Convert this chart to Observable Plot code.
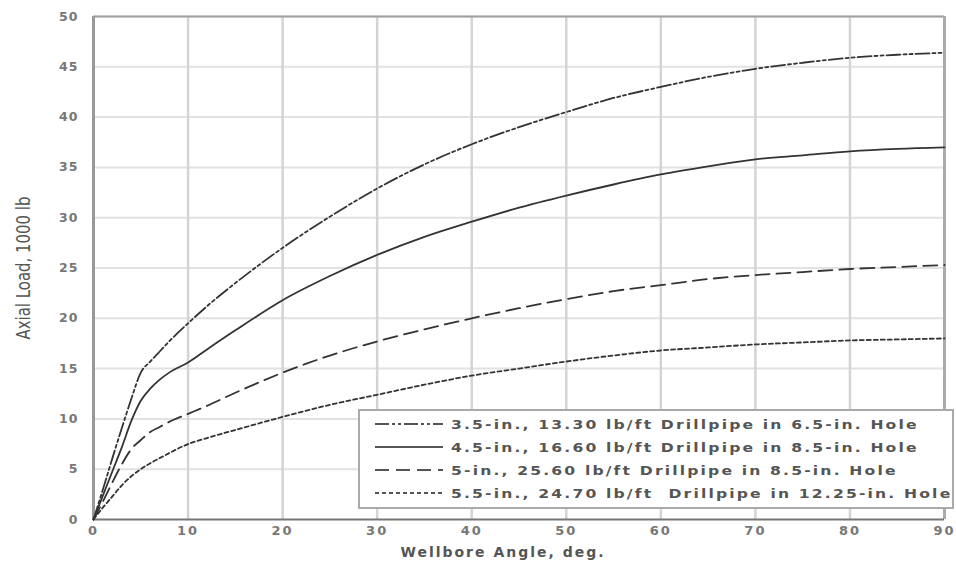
<!DOCTYPE html>
<html>
<head>
<meta charset="utf-8">
<script src="https://cdn.jsdelivr.net/npm/d3@7"></script>
<script src="https://cdn.jsdelivr.net/npm/@observablehq/plot@0.6"></script>
<style>
  body { margin: 0; background: #fff; }
  #wrap { position: relative; width: 956px; height: 569px; font-family: "DejaVu Sans", sans-serif; }
  #legend { position: absolute; left: 358px; top: 409px; width: 592px; height: 96px; border: 2px solid #aaa; background: #fff; box-sizing: content-box; }
  .row { position: absolute; left: 0; height: 20px; display: flex; align-items: center; }
  .row svg { margin-left: 15px; margin-right: 8px; flex: none; }
  .row span { display: inline-block; font-size: 13px; font-weight: bold; color: #555; letter-spacing: 1.8px; white-space: pre; transform: scaleX(1.2); transform-origin: left center; }
</style>
</head>
<body>
<div id="wrap"></div>
<script>
const seriesNames = [
  "3.5-in., 13.30 lb/ft Drillpipe in 6.5-in. Hole",
  "4.5-in., 16.60 lb/ft Drillpipe in 8.5-in. Hole",
  "5-in., 25.60 lb/ft Drillpipe in 8.5-in. Hole",
  "5.5-in., 24.70 lb/ft  Drillpipe in 12.25-in. Hole"
];
const angles = [0, 1, 2, 3, 4, 5, 6, 7, 8, 10, 12, 15, 20, 25, 30, 35, 40, 45, 50, 55, 60, 65, 70, 75, 80, 85, 90];
const load35 = [0, 3, 6.1, 9.1, 12, 14.6, 15.7, 16.7, 17.7, 19.5, 21.2, 23.5, 27, 30.1, 32.9, 35.3, 37.3, 39, 40.5, 41.9, 43, 44, 44.8, 45.4, 45.9, 46.2, 46.4];
const load45 = [0, 2.4, 4.8, 7.2, 9.8, 11.8, 13, 13.9, 14.6, 15.6, 16.9, 18.8, 21.8, 24.2, 26.3, 28.1, 29.6, 31, 32.2, 33.3, 34.3, 35.1, 35.8, 36.2, 36.6, 36.85, 37.0];
const load50 = [0, 1.8, 3.7, 5.5, 7, 7.9, 8.7, 9.2, 9.7, 10.5, 11.3, 12.6, 14.6, 16.3, 17.7, 18.9, 20, 21, 21.9, 22.7, 23.3, 23.9, 24.3, 24.6, 24.9, 25.1, 25.3];
const load55 = [0, 1.2, 2.3, 3.4, 4.3, 5, 5.6, 6.1, 6.6, 7.5, 8.1, 8.9, 10.2, 11.4, 12.4, 13.4, 14.3, 15, 15.7, 16.3, 16.8, 17.1, 17.4, 17.6, 17.8, 17.9, 18.0];
const xTicks = [0, 10, 20, 30, 40, 50, 60, 70, 80, 90];
const yTicks = [0, 5, 10, 15, 20, 25, 30, 35, 40, 45, 50];
const xLabel = "Wellbore Angle, deg.";
const yLabel = "Axial Load, 1000 lb";

const loads = [load35, load45, load50, load55];
const dashes = ["14,3,3,3,3,3", null, "14,7", "4,3"];
const rows = [];
loads.forEach((arr, s) => arr.forEach((v, i) => rows.push({series: seriesNames[s], angle: angles[i], load: v})));

const chart = Plot.plot({
  width: 956, height: 569,
  marginLeft: 93, marginRight: 12, marginTop: 16, marginBottom: 50,
  style: {fontFamily: "DejaVu Sans, sans-serif", background: "#fff"},
  x: {domain: [0, 90]},
  y: {domain: [0, 50]},
  marks: [
    Plot.ruleY(yTicks.slice(1), {stroke: "#e2e2e2", strokeWidth: 2}),
    Plot.ruleX(xTicks.slice(1, -1), {stroke: "#d4d4d4", strokeWidth: 2.5}),
    Plot.ruleY([50], {stroke: "#a0a0a0", strokeWidth: 2}),
    Plot.ruleX([90], {stroke: "#aaa", strokeWidth: 3}),
    Plot.ruleX([0], {stroke: "#999", strokeWidth: 3}),
    Plot.ruleY([0], {stroke: "#777", strokeWidth: 2}),
    ...seriesNames.map((name, s) => Plot.line(rows.filter(d => d.series === name), {
      x: "angle", y: "load", curve: "monotone-x",
      stroke: "#333", strokeWidth: 1.8, strokeDasharray: dashes[s]
    })),
    Plot.axisX({ticks: xTicks, tickSize: 0, tickPadding: 6, label: null, fontSize: 13, fill: "#777", fontWeight: "bold"}),
    Plot.axisY({ticks: yTicks, tickSize: 0, tickPadding: 15, label: null, fontSize: 12.5, fill: "#777", fontWeight: "bold"}),
    Plot.text([xLabel], {frameAnchor: "bottom", lineAnchor: "middle", dy: 33, dx: -16, fontSize: 14, fontWeight: "bold", fill: "#555"}),
    Plot.text([yLabel], {frameAnchor: "left", lineAnchor: "middle", textAnchor: "middle", dx: -70, rotate: -90, fontSize: 19, fill: "#555"})
  ]
});
const wrap = document.getElementById("wrap");
wrap.appendChild(chart);

// letter spacing / compression of texts
const svg = d3.select(chart);
svg.selectAll("g[aria-label='x-axis tick label'] text").attr("letter-spacing", "2px");
svg.selectAll("g[aria-label='y-axis tick label'] text").attr("letter-spacing", "1px");
svg.selectAll("g[aria-label='text'] text").each(function() {
  const t = d3.select(this);
  if (t.text() === xLabel) t.attr("letter-spacing", "2px");
  if (t.text() === yLabel) t.attr("textLength", 143).attr("lengthAdjust", "spacingAndGlyphs");
});

// Legend
const legend = document.createElement("div");
legend.id = "legend";
seriesNames.forEach((name, s) => {
  const row = document.createElement("div");
  row.className = "row";
  row.style.top = (3 + s * 23) + "px";
  const dash = dashes[s] ? `stroke-dasharray="${dashes[s]}"` : "";
  row.innerHTML = `<svg width="68" height="6"><line x1="0" y1="3" x2="68" y2="3" stroke="#555" stroke-width="2" ${dash}></line></svg><span>${name}</span>`;
  legend.appendChild(row);
});
wrap.appendChild(legend);
</script>
</body>
</html>
